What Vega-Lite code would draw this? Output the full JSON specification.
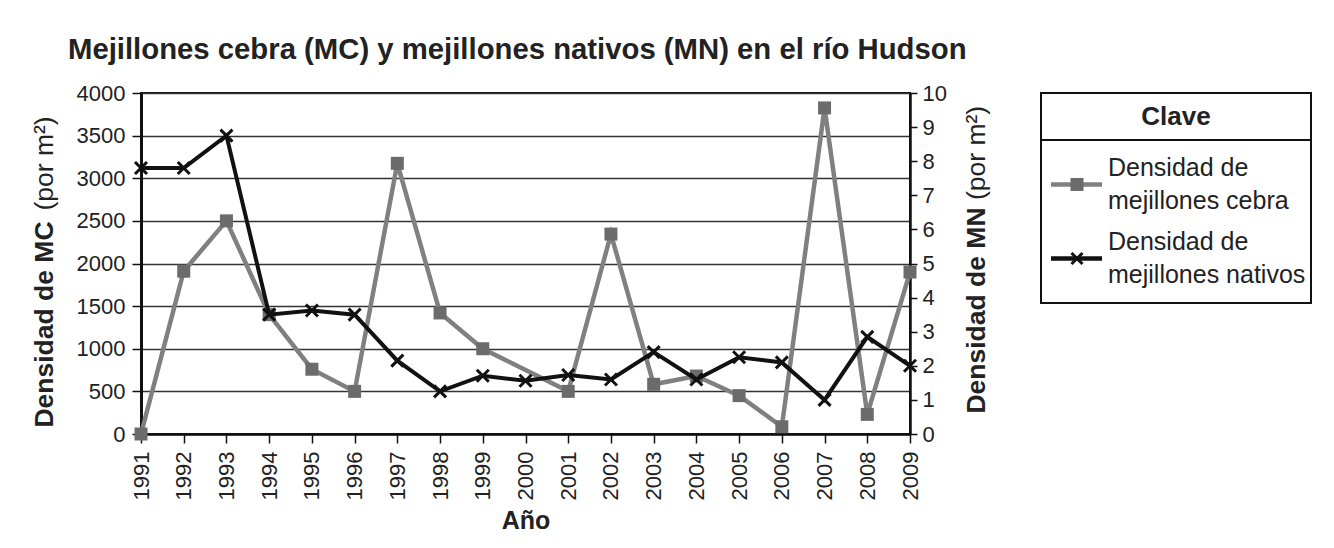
{
  "$schema": "https://vega.github.io/schema/vega-lite/v6.json",
  "autosize": {"type": "none"},
  "padding": {"left": 141, "top": 93, "right": 1193, "bottom": 455},
  "background": "white",
  "title": {
    "text": "Mejillones cebra (MC) y mejillones nativos (MN) en el río Hudson",
    "anchor": "start",
    "frame": "group",
    "dx": -73,
    "offset": 16,
    "fontSize": 29.3,
    "fontWeight": "bold",
    "font": "Liberation Sans",
    "color": "#222222"
  },
  "bounds": "flush",
  "spacing": 131,
  "hconcat": [
    {
      "width": 769,
      "height": 341,
      "data": {
        "values": [
          {"year": "1991", "mc": 0, "mn": 7.8},
          {"year": "1992", "mc": 1910, "mn": 7.8},
          {"year": "1993", "mc": 2500, "mn": 8.75},
          {"year": "1994", "mc": 1400, "mn": 3.5},
          {"year": "1995", "mc": 760, "mn": 3.62},
          {"year": "1996", "mc": 500, "mn": 3.5},
          {"year": "1997", "mc": 3175, "mn": 2.15},
          {"year": "1998", "mc": 1420, "mn": 1.25},
          {"year": "1999", "mc": 1000, "mn": 1.71},
          {"year": "2000", "mc": null, "mn": 1.56},
          {"year": "2001", "mc": 500, "mn": 1.73},
          {"year": "2002", "mc": 2345, "mn": 1.6},
          {"year": "2003", "mc": 583, "mn": 2.4},
          {"year": "2004", "mc": 680, "mn": 1.6},
          {"year": "2005", "mc": 450, "mn": 2.25},
          {"year": "2006", "mc": 85, "mn": 2.1},
          {"year": "2007", "mc": 3825, "mn": 1.0},
          {"year": "2008", "mc": 230, "mn": 2.85},
          {"year": "2009", "mc": 1900, "mn": 2.0}
        ]
      },
      "encoding": {
        "x": {
          "field": "year",
          "type": "ordinal",
          "sort": null,
          "scale": {
            "type": "point",
            "padding": 0,
            "domain": ["1991", "1992", "1993", "1994", "1995", "1996", "1997", "1998", "1999", "2000", "2001", "2002", "2003", "2004", "2005", "2006", "2007", "2008", "2009"]
          },
          "axis": {
            "title": "Año",
            "titleFontSize": 25,
            "titleFontWeight": "bold",
            "titlePadding": 9,
            "labelAngle": -90,
            "labelFontSize": 22,
            "labelPadding": 8,
            "tickSize": 9,
            "tickWidth": 1.5,
            "domainWidth": 2.5,
            "grid": false
          }
        }
      },
      "layer": [
        {
          "transform": [{"filter": "datum.mc != null"}],
          "mark": {"type": "line", "color": "#808080", "strokeWidth": 4.5},
          "encoding": {
            "y": {
              "field": "mc",
              "type": "quantitative",
              "scale": {"domain": [0, 4000], "nice": false},
              "axis": {
                "orient": "left",
                "values": [0, 500, 1000, 1500, 2000, 2500, 3000, 3500, 4000],
                "format": "d",
                "title": "Densidad de MC",
                "titleFontSize": 26.5,
                "titleFontWeight": "bold",
                "titleAngle": -90,
                "titleAlign": "center",
                "titleBaseline": "alphabetic",
                "titleX": -89,
                "titleY": 231,
                "labelFontSize": 22,
                "labelPadding": 7,
                "tickSize": 9,
                "tickWidth": 1.5,
                "domainWidth": 3,
                "grid": true,
                "gridColor": "#333333",
                "gridWidth": 1.5
              }
            }
          }
        },
        {
          "transform": [{"filter": "datum.mc != null"}],
          "mark": {"type": "point", "shape": "square", "filled": true, "size": 169, "color": "#6b6b6b", "opacity": 1},
          "encoding": {
            "y": {
              "field": "mc",
              "type": "quantitative",
              "scale": {"domain": [0, 4000], "nice": false},
              "axis": {
                "orient": "left",
                "title": "(por m²)",
                "titleFontSize": 26.5,
                "titleFontWeight": "normal",
                "titleAngle": -90,
                "titleAlign": "center",
                "titleBaseline": "alphabetic",
                "titleX": -89,
                "titleY": 70,
                "labels": false,
                "ticks": false,
                "domain": false,
                "grid": false
              }
            }
          }
        },
        {
          "mark": {"type": "line", "color": "#111111", "strokeWidth": 4},
          "encoding": {
            "y": {
              "field": "mn",
              "type": "quantitative",
              "scale": {"domain": [0, 10], "nice": false},
              "axis": {
                "orient": "right",
                "values": [0, 1, 2, 3, 4, 5, 6, 7, 8, 9, 10],
                "format": "d",
                "title": "Densidad de MN",
                "titleFontSize": 26.5,
                "titleFontWeight": "bold",
                "titleAngle": -90,
                "titleAlign": "center",
                "titleBaseline": "alphabetic",
                "titleX": 74,
                "titleY": 217,
                "labelFontSize": 22,
                "labelPadding": 5,
                "tickSize": 7,
                "tickWidth": 1.5,
                "domainWidth": 2.5,
                "grid": false
              }
            }
          }
        },
        {
          "mark": {"type": "point", "shape": "M-1,-1L1,1M-1,1L1,-1", "filled": false, "size": 144, "color": "#111111", "strokeWidth": 3, "opacity": 1},
          "encoding": {
            "y": {
              "field": "mn",
              "type": "quantitative",
              "scale": {"domain": [0, 10], "nice": false},
              "axis": {
                "orient": "right",
                "title": "(por m²)",
                "titleFontSize": 26.5,
                "titleFontWeight": "normal",
                "titleAngle": -90,
                "titleAlign": "center",
                "titleBaseline": "alphabetic",
                "titleX": 74,
                "titleY": 59.5,
                "labels": false,
                "ticks": false,
                "domain": false,
                "grid": false
              }
            }
          }
        }
      ],
      "resolve": {"scale": {"y": "independent"}}
    },
    {
      "bounds": "flush",
      "spacing": 0,
      "vconcat": [
        {
          "width": 270,
          "height": 47,
          "view": {"stroke": "#111111", "strokeWidth": 2},
          "data": {"values": [{"t": "Clave"}]},
          "mark": {"type": "text", "fontSize": 26, "fontWeight": "bold", "color": "#222222", "baseline": "middle", "align": "center"},
          "encoding": {
            "x": {"datum": 135, "type": "quantitative", "scale": {"domain": [0, 270], "nice": false, "zero": false}, "axis": null},
            "y": {"datum": 0.5, "type": "quantitative", "scale": {"domain": [0, 1], "nice": false}, "axis": null},
            "text": {"field": "t"}
          }
        },
        {
          "width": 270,
          "height": 163,
          "data": {
            "values": [
              {"serie": "MC", "label": "Densidad de\nmejillones cebra"},
              {"serie": "MN", "label": "Densidad de\nmejillones nativos"}
            ]
          },
          "encoding": {
            "y": {"field": "serie", "type": "nominal", "sort": null, "scale": {"type": "point", "padding": 0.6}, "axis": null}
          },
          "layer": [
            {
              "mark": {"type": "rule", "strokeWidth": 4.5},
              "encoding": {
                "x": {"datum": 10, "type": "quantitative", "scale": {"domain": [0, 270], "nice": false, "zero": false}, "axis": null},
                "x2": {"datum": 61},
                "color": {"field": "serie", "type": "nominal", "scale": {"domain": ["MC", "MN"], "range": ["#808080", "#111111"]}, "legend": null}
              }
            },
            {
              "transform": [{"filter": "datum.serie == 'MC'"}],
              "mark": {"type": "point", "shape": "square", "filled": true, "size": 169, "color": "#6b6b6b", "opacity": 1},
              "encoding": {"x": {"datum": 36, "type": "quantitative"}}
            },
            {
              "transform": [{"filter": "datum.serie == 'MN'"}],
              "mark": {"type": "point", "shape": "M-1,-1L1,1M-1,1L1,-1", "filled": false, "size": 121, "color": "#111111", "strokeWidth": 3, "opacity": 1},
              "encoding": {"x": {"datum": 36, "type": "quantitative"}}
            },
            {
              "mark": {"type": "text", "align": "left", "baseline": "middle", "dy": -16.5, "fontSize": 25, "lineBreak": "\n", "lineHeight": 33, "color": "#222222"},
              "encoding": {
                "x": {"datum": 67, "type": "quantitative"},
                "text": {"field": "label"}
              }
            }
          ]
        }
      ]
    }
  ],
  "config": {
    "font": "Liberation Sans",
    "view": {"stroke": "#111111", "strokeWidth": 2},
    "axis": {
      "labelFont": "Liberation Sans",
      "titleFont": "Liberation Sans",
      "labelColor": "#222222",
      "titleColor": "#222222",
      "tickColor": "#111111",
      "domainColor": "#111111"
    }
  }
}
